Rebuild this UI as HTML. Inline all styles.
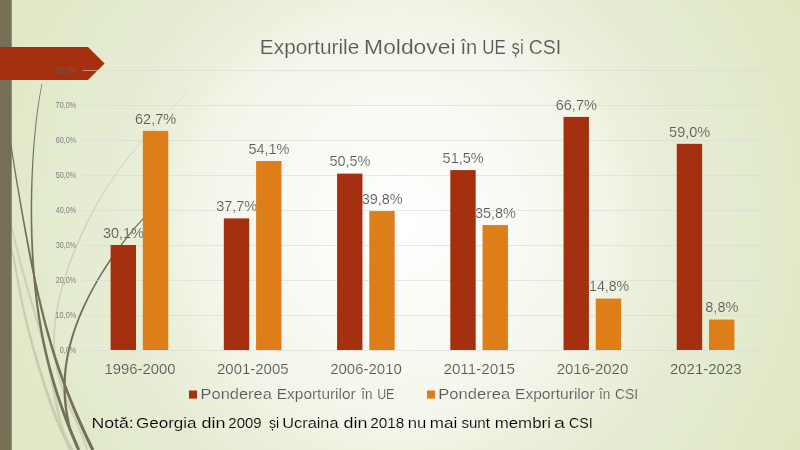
<!DOCTYPE html><html><head><meta charset="utf-8"><title>Exporturile Moldovei</title><style>html,body{margin:0;padding:0;width:800px;height:450px;overflow:hidden;background:#E4EBD0}</style></head><body><svg width="800" height="450" viewBox="0 0 800 450" style="display:block;will-change:transform;font-family:'Liberation Sans', sans-serif">
<style>text{stroke:url(#bg);stroke-width:0.15px}</style>
<defs><radialGradient id="bg" gradientUnits="userSpaceOnUse" cx="400" cy="225" r="459"><stop offset="0" stop-color="#FFFFFF"/><stop offset="0.25" stop-color="#F9FAF4"/><stop offset="0.46" stop-color="#F1F5E7"/><stop offset="0.52" stop-color="#ECF1DD"/><stop offset="0.64" stop-color="#E6ECD4"/><stop offset="0.69" stop-color="#E5ECD2"/><stop offset="0.965" stop-color="#DFE7C3"/><stop offset="1" stop-color="#DEE6C1"/></radialGradient><linearGradient id="l3g" gradientUnits="userSpaceOnUse" x1="188" y1="88" x2="95" y2="210"><stop offset="0" stop-color="#CDD2B9" stop-opacity="0.35"/><stop offset="1" stop-color="#CDD2B9" stop-opacity="1"/></linearGradient></defs>
<rect width="800" height="450" fill="url(#bg)"/>
<path d="M5.42,205.20 L5.94,207.20 L6.44,209.19 L6.94,211.18 L7.44,213.17 L7.92,215.16 L8.40,217.15 L8.87,219.14 L9.35,221.13 L9.81,223.13 L10.28,225.12 L10.74,227.11 L11.21,229.10 L11.67,231.10 L12.14,233.09 L12.61,235.09 L13.07,237.08 L13.54,239.07 L14.02,241.07 L14.49,243.06 L14.97,245.06 L15.46,247.05 L15.94,249.05 L16.43,251.04 L16.93,253.04 L17.43,255.03 L17.93,257.03 L18.44,259.03 L18.95,261.02 L19.47,263.02 L20.00,265.01 L20.52,267.01 L21.05,269.00 L21.59,271.00 L22.13,272.99 L22.68,274.99 L23.22,276.99 L23.78,278.98 L24.33,280.98 L24.89,282.97 L25.45,284.97 L26.02,286.96 L26.59,288.96 L27.16,290.95 L27.73,292.95 L28.30,294.94 L28.88,296.93 L29.45,298.93 L30.03,300.92 L30.61,302.92 L31.19,304.91 L31.76,306.90 L32.34,308.90 L32.91,310.89 L33.49,312.88 L34.06,314.88 L34.63,316.87 L35.20,318.86 L35.76,320.85 L36.33,322.84 L36.88,324.84 L37.44,326.83 L37.99,328.82 L38.54,330.81 L39.08,332.80 L39.62,334.79 L40.15,336.78 L40.67,338.77 L41.20,340.76 L41.71,342.75 L42.22,344.74 L42.72,346.73 L43.22,348.72 L43.71,350.71 L44.20,352.70 L44.67,354.69 L45.15,356.68 L45.61,358.67 L46.07,360.66 L46.52,362.65 L46.97,364.64 L47.41,366.63 L47.84,368.62 L48.27,370.61 L48.69,372.60 L49.11,374.59 L49.52,376.58 L49.93,378.57 L50.33,380.56 L50.73,382.55 L51.13,384.54 L51.52,386.53 L51.91,388.53 L52.30,390.52 L52.69,392.51 L53.08,394.50 L53.47,396.50 L53.86,398.49 L54.25,400.49 L54.65,402.48 L55.05,404.48 L55.46,406.48 L55.87,408.47 L56.29,410.47 L56.72,412.47 L57.16,414.47 L57.61,416.47 L58.07,418.48 L58.55,420.48 L59.05,422.49 L59.56,424.49 L60.09,426.50 L60.64,428.51 L61.22,430.52 L61.82,432.53 L62.45,434.54 L63.11,436.55 L63.80,438.57 L64.53,440.59 L65.29,442.60 L66.09,444.62 L66.93,446.64 L67.81,448.67 L68.74,450.67 L71.64,449.33 L70.72,447.35 L69.84,445.39 L69.01,443.43 L68.22,441.46 L67.46,439.50 L66.74,437.53 L66.05,435.56 L65.40,433.59 L64.76,431.62 L64.16,429.65 L63.58,427.67 L63.02,425.70 L62.49,423.72 L61.97,421.74 L61.47,419.76 L60.98,417.78 L60.51,415.80 L60.05,413.82 L59.60,411.84 L59.16,409.85 L58.73,407.87 L58.31,405.88 L57.89,403.90 L57.48,401.91 L57.07,399.92 L56.66,397.93 L56.26,395.94 L55.86,393.95 L55.46,391.96 L55.06,389.97 L54.65,387.98 L54.25,385.99 L53.84,383.99 L53.43,382.00 L53.02,380.01 L52.60,378.02 L52.18,376.02 L51.76,374.03 L51.32,372.03 L50.89,370.04 L50.45,368.05 L50.00,366.05 L49.54,364.06 L49.08,362.06 L48.62,360.07 L48.14,358.08 L47.66,356.08 L47.18,354.09 L46.69,352.09 L46.19,350.10 L45.68,348.11 L45.17,346.11 L44.65,344.12 L44.13,342.12 L43.60,340.13 L43.06,338.14 L42.52,336.14 L41.98,334.15 L41.42,332.16 L40.87,330.17 L40.31,328.17 L39.74,326.18 L39.18,324.19 L38.60,322.20 L38.03,320.20 L37.45,318.21 L36.87,316.22 L36.28,314.23 L35.70,312.24 L35.11,310.25 L34.52,308.26 L33.94,306.27 L33.35,304.28 L32.76,302.29 L32.17,300.30 L31.58,298.31 L30.99,296.32 L30.40,294.33 L29.81,292.34 L29.23,290.35 L28.65,288.36 L28.07,286.37 L27.49,284.38 L26.92,282.39 L26.35,280.41 L25.78,278.42 L25.21,276.43 L24.65,274.44 L24.10,272.45 L23.55,270.46 L23.00,268.48 L22.46,266.49 L21.92,264.50 L21.38,262.51 L20.85,260.52 L20.33,258.54 L19.81,256.55 L19.29,254.56 L18.78,252.57 L18.27,250.58 L17.77,248.59 L17.27,246.61 L16.78,244.62 L16.29,242.63 L15.80,240.64 L15.31,238.65 L14.83,236.66 L14.35,234.67 L13.87,232.68 L13.39,230.69 L12.92,228.70 L12.44,226.71 L11.96,224.72 L11.48,222.73 L11.00,220.74 L10.52,218.75 L10.03,216.75 L9.54,214.76 L9.04,212.77 L8.53,210.78 L8.02,208.78 L7.50,206.79 L6.97,204.80Z" fill="#CDD2B4"/>
<path d="M7.29,236.24 L7.89,238.22 L8.47,240.19 L9.01,242.16 L9.54,244.14 L10.04,246.11 L10.52,248.09 L10.98,250.07 L11.42,252.04 L11.85,254.02 L12.27,256.00 L12.68,257.98 L13.07,259.95 L13.46,261.93 L13.83,263.91 L14.21,265.89 L14.57,267.88 L14.93,269.86 L15.29,271.84 L15.65,273.82 L16.00,275.80 L16.36,277.79 L16.71,279.77 L17.07,281.75 L17.43,283.74 L17.79,285.72 L18.15,287.71 L18.52,289.69 L18.89,291.68 L19.27,293.66 L19.65,295.65 L20.03,297.63 L20.42,299.62 L20.82,301.60 L21.23,303.59 L21.64,305.58 L22.05,307.56 L22.48,309.55 L22.91,311.54 L23.34,313.52 L23.79,315.51 L24.24,317.50 L24.70,319.48 L25.16,321.47 L25.63,323.46 L26.11,325.45 L26.60,327.43 L27.09,329.42 L27.59,331.41 L28.09,333.39 L28.60,335.38 L29.12,337.37 L29.64,339.36 L30.17,341.34 L30.71,343.33 L31.25,345.32 L31.79,347.30 L32.35,349.29 L32.90,351.28 L33.46,353.26 L34.03,355.25 L34.60,357.24 L35.17,359.22 L35.75,361.21 L36.34,363.19 L36.93,365.18 L37.52,367.17 L38.12,369.15 L38.72,371.14 L39.32,373.13 L39.93,375.11 L40.55,377.10 L41.16,379.09 L41.79,381.07 L42.41,383.06 L43.05,385.05 L43.68,387.03 L44.33,389.02 L44.97,391.01 L45.63,393.00 L46.29,394.99 L46.96,396.97 L47.63,398.96 L48.31,400.95 L49.00,402.94 L49.70,404.93 L50.41,406.92 L51.13,408.91 L51.86,410.90 L52.60,412.90 L53.35,414.89 L54.12,416.88 L54.91,418.88 L55.70,420.87 L56.52,422.87 L57.35,424.86 L58.21,426.86 L59.08,428.86 L59.98,430.86 L60.90,432.86 L61.84,434.86 L62.81,436.86 L63.82,438.86 L64.85,440.86 L65.91,442.87 L67.01,444.87 L68.14,446.88 L69.32,448.89 L70.53,450.89 L73.43,449.11 L72.22,447.15 L71.05,445.19 L69.93,443.24 L68.83,441.28 L67.77,439.32 L66.74,437.36 L65.74,435.40 L64.77,433.44 L63.83,431.48 L62.90,429.51 L62.00,427.55 L61.13,425.58 L60.27,423.62 L59.43,421.65 L58.60,419.68 L57.80,417.72 L57.01,415.75 L56.23,413.78 L55.47,411.81 L54.71,409.84 L53.97,407.87 L53.24,405.89 L52.52,403.92 L51.81,401.95 L51.11,399.97 L50.41,398.00 L49.73,396.03 L49.05,394.05 L48.37,392.08 L47.71,390.10 L47.04,388.13 L46.39,386.15 L45.74,384.18 L45.09,382.20 L44.45,380.22 L43.81,378.25 L43.18,376.27 L42.55,374.29 L41.93,372.32 L41.31,370.34 L40.69,368.37 L40.08,366.39 L39.48,364.41 L38.87,362.44 L38.27,360.46 L37.68,358.48 L37.09,356.51 L36.51,354.53 L35.93,352.55 L35.35,350.58 L34.78,348.60 L34.21,346.62 L33.65,344.65 L33.10,342.67 L32.55,340.70 L32.01,338.72 L31.47,336.74 L30.94,334.77 L30.41,332.79 L29.89,330.82 L29.38,328.84 L28.88,326.86 L28.38,324.89 L27.88,322.91 L27.40,320.94 L26.92,318.96 L26.45,316.98 L25.98,315.01 L25.52,313.03 L25.07,311.06 L24.63,309.08 L24.19,307.10 L23.76,305.13 L23.33,303.15 L22.91,301.17 L22.50,299.20 L22.10,297.22 L21.69,295.24 L21.30,293.26 L20.91,291.29 L20.52,289.31 L20.14,287.33 L19.76,285.35 L19.38,283.37 L19.01,281.40 L18.64,279.42 L18.27,277.44 L17.90,275.46 L17.53,273.48 L17.15,271.49 L16.78,269.51 L16.40,267.53 L16.02,265.55 L15.63,263.57 L15.24,261.58 L14.83,259.60 L14.42,257.62 L14.00,255.63 L13.56,253.65 L13.11,251.66 L12.65,249.68 L12.17,247.69 L11.67,245.70 L11.15,243.71 L10.60,241.73 L10.04,239.74 L9.44,237.75 L8.82,235.76Z" fill="#C8CDAF"/>
<path d="M187.76,89.81 L186.13,91.79 L184.45,93.78 L182.75,95.76 L181.02,97.74 L179.27,99.73 L177.50,101.71 L175.71,103.70 L173.90,105.68 L172.08,107.67 L170.25,109.65 L168.42,111.64 L166.58,113.62 L164.74,115.61 L162.89,117.59 L161.05,119.58 L159.21,121.56 L157.37,123.55 L155.54,125.53 L153.72,127.52 L151.91,129.51 L150.11,131.49 L148.31,133.48 L146.53,135.47 L144.77,137.45 L143.02,139.44 L141.28,141.43 L139.56,143.41 L137.85,145.40 L136.17,147.39 L134.50,149.38 L132.85,151.36 L131.22,153.35 L129.60,155.34 L128.01,157.33 L126.44,159.32 L124.88,161.30 L123.35,163.29 L121.84,165.28 L120.34,167.27 L118.87,169.26 L117.42,171.25 L115.99,173.24 L114.57,175.23 L113.18,177.21 L111.81,179.20 L110.46,181.19 L109.13,183.18 L107.82,185.17 L106.52,187.16 L105.25,189.15 L104.00,191.14 L102.76,193.13 L101.54,195.12 L100.34,197.11 L99.16,199.10 L98.00,201.09 L96.85,203.08 L95.72,205.07 L94.61,207.06 L93.52,209.05 L92.44,211.04 L91.37,213.03 L90.32,215.02 L89.29,217.01 L88.27,219.00 L87.27,220.99 L86.28,222.98 L85.31,224.97 L84.35,226.96 L83.40,228.95 L82.47,230.94 L81.55,232.93 L80.64,234.92 L79.75,236.91 L78.87,238.90 L78.00,240.90 L77.14,242.89 L76.30,244.88 L75.47,246.87 L74.65,248.86 L73.84,250.85 L73.05,252.84 L72.27,254.83 L71.50,256.82 L70.74,258.81 L70.00,260.80 L69.26,262.79 L68.54,264.79 L67.84,266.78 L67.14,268.77 L66.46,270.76 L65.79,272.75 L65.14,274.74 L64.49,276.74 L63.87,278.73 L63.25,280.72 L62.65,282.71 L62.07,284.71 L61.49,286.70 L60.94,288.69 L60.40,290.69 L59.87,292.68 L59.37,294.67 L58.87,296.67 L58.40,298.66 L57.94,300.66 L57.50,302.65 L57.08,304.65 L56.68,306.64 L56.29,308.64 L55.93,310.63 L55.59,312.63 L55.26,314.63 L54.96,316.62 L54.68,318.62 L54.42,320.62 L54.19,322.62 L53.97,324.61 L53.78,326.61 L53.62,328.61 L53.48,330.61 L53.36,332.61 L53.27,334.61 L53.20,336.61 L53.16,338.61 L53.15,340.61 L53.16,342.61 L53.20,344.61 L53.27,346.61 L53.37,348.61 L53.50,350.62 L53.65,352.62 L53.83,354.62 L54.04,356.62 L54.28,358.62 L54.55,360.63 L54.85,362.63 L55.18,364.63 L55.54,366.63 L55.93,368.64 L56.34,370.64 L56.79,372.64 L57.26,374.64 L57.77,376.65 L58.30,378.65 L58.86,380.65 L59.44,382.65 L60.05,384.65 L60.69,386.65 L61.36,388.65 L62.05,390.65 L62.76,392.65 L63.49,394.65 L64.25,396.65 L65.03,398.65 L65.82,400.65 L66.64,402.65 L67.47,404.64 L68.32,406.64 L69.18,408.64 L70.05,410.63 L70.93,412.63 L71.82,414.62 L72.71,416.61 L73.61,418.60 L74.51,420.59 L75.41,422.58 L76.30,424.57 L77.18,426.56 L78.06,428.55 L78.92,430.53 L79.77,432.51 L80.59,434.50 L81.39,436.48 L82.17,438.45 L82.91,440.43 L83.62,442.40 L84.29,444.37 L84.91,446.34 L85.49,448.31 L86.01,450.28 L88.14,449.72 L87.60,447.71 L87.00,445.70 L86.35,443.69 L85.66,441.69 L84.94,439.68 L84.17,437.68 L83.38,435.68 L82.56,433.68 L81.72,431.68 L80.86,429.69 L79.99,427.70 L79.10,425.71 L78.21,423.72 L77.30,421.73 L76.40,419.74 L75.49,417.75 L74.59,415.76 L73.69,413.78 L72.79,411.79 L71.91,409.81 L71.03,407.83 L70.17,405.85 L69.32,403.86 L68.48,401.88 L67.67,399.90 L66.87,397.92 L66.09,395.94 L65.33,393.96 L64.59,391.99 L63.88,390.01 L63.19,388.03 L62.53,386.05 L61.89,384.08 L61.27,382.10 L60.69,380.12 L60.13,378.15 L59.59,376.17 L59.09,374.20 L58.61,372.22 L58.17,370.24 L57.75,368.27 L57.36,366.29 L57.00,364.32 L56.66,362.34 L56.36,360.37 L56.09,358.39 L55.84,356.42 L55.62,354.44 L55.44,352.46 L55.28,350.49 L55.15,348.51 L55.04,346.54 L54.97,344.56 L54.92,342.58 L54.90,340.61 L54.90,338.63 L54.93,336.65 L54.99,334.67 L55.07,332.69 L55.18,330.72 L55.31,328.74 L55.47,326.76 L55.65,324.78 L55.85,322.80 L56.08,320.82 L56.33,318.84 L56.60,316.86 L56.89,314.88 L57.20,312.90 L57.53,310.91 L57.89,308.93 L58.26,306.95 L58.65,304.97 L59.06,302.98 L59.49,301.00 L59.94,299.02 L60.40,297.03 L60.88,295.05 L61.38,293.07 L61.89,291.08 L62.42,289.10 L62.97,287.11 L63.53,285.13 L64.10,283.14 L64.69,281.16 L65.30,279.17 L65.92,277.19 L66.55,275.20 L67.19,273.21 L67.85,271.23 L68.52,269.24 L69.21,267.26 L69.90,265.27 L70.61,263.28 L71.33,261.30 L72.07,259.31 L72.81,257.32 L73.57,255.34 L74.34,253.35 L75.13,251.36 L75.92,249.37 L76.73,247.39 L77.55,245.40 L78.38,243.41 L79.23,241.43 L80.09,239.44 L80.96,237.45 L81.84,235.46 L82.73,233.48 L83.64,231.49 L84.57,229.50 L85.50,227.51 L86.45,225.53 L87.41,223.54 L88.39,221.55 L89.38,219.56 L90.39,217.57 L91.41,215.59 L92.45,213.60 L93.50,211.61 L94.57,209.62 L95.66,207.64 L96.76,205.65 L97.87,203.66 L99.01,201.67 L100.16,199.68 L101.33,197.70 L102.52,195.71 L103.72,193.72 L104.95,191.73 L106.19,189.74 L107.45,187.76 L108.73,185.77 L110.03,183.78 L111.35,181.79 L112.69,179.80 L114.05,177.81 L115.43,175.82 L116.83,173.84 L118.25,171.85 L119.69,169.86 L121.15,167.87 L122.63,165.88 L124.13,163.89 L125.65,161.90 L127.20,159.91 L128.76,157.92 L130.34,155.93 L131.94,153.94 L133.56,151.95 L135.20,149.96 L136.86,147.97 L138.54,145.98 L140.23,143.99 L141.94,142.00 L143.67,140.01 L145.41,138.02 L147.16,136.03 L148.93,134.03 L150.72,132.04 L152.51,130.05 L154.31,128.06 L156.13,126.07 L157.95,124.08 L159.77,122.08 L161.61,120.09 L163.44,118.10 L165.28,116.11 L167.11,114.11 L168.94,112.12 L170.77,110.13 L172.59,108.13 L174.41,106.14 L176.20,104.15 L177.99,102.15 L179.76,100.16 L181.51,98.17 L183.23,96.17 L184.93,94.18 L186.59,92.18 L188.23,90.19Z" fill="url(#l3g)"/>
<path d="M5.71,100.03 L5.84,102.02 L5.97,104.01 L6.11,106.00 L6.27,107.99 L6.43,109.98 L6.60,111.97 L6.79,113.96 L6.97,115.95 L7.17,117.95 L7.38,119.94 L7.59,121.93 L7.81,123.92 L8.03,125.91 L8.27,127.90 L8.51,129.89 L8.75,131.88 L9.00,133.87 L9.26,135.86 L9.52,137.85 L9.78,139.85 L10.05,141.84 L10.32,143.83 L10.60,145.82 L10.88,147.81 L11.17,149.80 L11.46,151.79 L11.75,153.78 L12.05,155.77 L12.35,157.76 L12.65,159.75 L12.95,161.74 L13.26,163.73 L13.57,165.72 L13.88,167.71 L14.19,169.70 L14.51,171.69 L14.83,173.68 L15.15,175.67 L15.47,177.66 L15.79,179.65 L16.12,181.64 L16.44,183.64 L16.77,185.63 L17.10,187.62 L17.43,189.61 L17.76,191.60 L18.10,193.59 L18.43,195.58 L18.77,197.57 L19.10,199.56 L19.44,201.55 L19.78,203.54 L20.12,205.53 L20.46,207.52 L20.80,209.51 L21.15,211.50 L21.49,213.49 L21.84,215.48 L22.18,217.47 L22.53,219.46 L22.88,221.45 L23.23,223.44 L23.58,225.43 L23.93,227.42 L24.29,229.41 L24.64,231.40 L25.00,233.39 L25.36,235.38 L25.72,237.37 L26.08,239.36 L26.44,241.35 L26.81,243.34 L27.18,245.33 L27.54,247.33 L27.92,249.32 L28.29,251.31 L28.66,253.30 L29.04,255.29 L29.42,257.28 L29.80,259.27 L30.19,261.26 L30.57,263.25 L30.96,265.24 L31.36,267.23 L31.75,269.23 L32.15,271.22 L32.55,273.21 L32.95,275.20 L33.36,277.19 L33.77,279.18 L34.19,281.18 L34.61,283.17 L35.03,285.16 L35.46,287.15 L35.89,289.14 L36.32,291.13 L36.76,293.13 L37.20,295.12 L37.65,297.11 L38.10,299.10 L38.55,301.10 L39.01,303.09 L39.48,305.08 L39.95,307.07 L40.42,309.07 L40.90,311.06 L41.39,313.05 L41.88,315.05 L42.38,317.04 L42.88,319.03 L43.39,321.03 L43.90,323.02 L44.42,325.01 L44.95,327.01 L45.48,329.00 L46.02,330.99 L46.56,332.99 L47.11,334.98 L47.67,336.98 L48.23,338.97 L48.80,340.96 L49.38,342.96 L49.96,344.95 L50.55,346.95 L51.15,348.94 L51.75,350.94 L52.37,352.93 L52.98,354.92 L53.61,356.92 L54.24,358.91 L54.88,360.91 L55.53,362.90 L56.19,364.90 L56.85,366.89 L57.52,368.89 L58.20,370.88 L58.89,372.88 L59.58,374.87 L60.28,376.87 L60.99,378.86 L61.71,380.86 L62.43,382.86 L63.16,384.85 L63.90,386.85 L64.65,388.84 L65.40,390.84 L66.17,392.83 L66.94,394.83 L67.72,396.82 L68.50,398.82 L69.30,400.82 L70.10,402.81 L70.91,404.81 L71.72,406.80 L72.55,408.80 L73.38,410.79 L74.21,412.79 L75.06,414.78 L75.91,416.78 L76.77,418.78 L77.64,420.77 L78.51,422.77 L79.39,424.76 L80.28,426.76 L81.17,428.75 L82.07,430.75 L82.98,432.74 L83.89,434.74 L84.81,436.73 L85.73,438.73 L86.66,440.72 L87.59,442.72 L88.53,444.71 L89.48,446.71 L90.43,448.70 L91.38,450.70 L94.26,449.30 L93.30,447.32 L92.34,445.34 L91.38,443.36 L90.43,441.37 L89.49,439.39 L88.55,437.41 L87.62,435.43 L86.69,433.44 L85.77,431.46 L84.85,429.48 L83.94,427.50 L83.04,425.52 L82.14,423.53 L81.25,421.55 L80.37,419.57 L79.49,417.59 L78.62,415.61 L77.76,413.62 L76.91,411.64 L76.06,409.66 L75.22,407.68 L74.38,405.70 L73.56,403.72 L72.74,401.73 L71.93,399.75 L71.13,397.77 L70.33,395.79 L69.54,393.81 L68.76,391.83 L67.99,389.84 L67.22,387.86 L66.47,385.88 L65.72,383.90 L64.97,381.92 L64.24,379.94 L63.51,377.95 L62.80,375.97 L62.08,373.99 L61.38,372.01 L60.68,370.03 L60.00,368.04 L59.32,366.06 L58.64,364.08 L57.98,362.10 L57.32,360.11 L56.67,358.13 L56.02,356.15 L55.39,354.17 L54.76,352.18 L54.13,350.20 L53.52,348.22 L52.91,346.24 L52.31,344.25 L51.71,342.27 L51.13,340.29 L50.54,338.30 L49.97,336.32 L49.40,334.34 L48.84,332.35 L48.29,330.37 L47.74,328.39 L47.19,326.40 L46.66,324.42 L46.12,322.44 L45.60,320.45 L45.08,318.47 L44.57,316.48 L44.06,314.50 L43.56,312.52 L43.06,310.53 L42.57,308.55 L42.08,306.56 L41.60,304.58 L41.12,302.59 L40.65,300.61 L40.18,298.62 L39.71,296.64 L39.26,294.65 L38.80,292.67 L38.35,290.68 L37.90,288.70 L37.46,286.71 L37.02,284.73 L36.59,282.74 L36.16,280.76 L35.73,278.77 L35.31,276.79 L34.89,274.80 L34.47,272.81 L34.06,270.83 L33.65,268.84 L33.24,266.86 L32.83,264.87 L32.43,262.88 L32.03,260.90 L31.63,258.91 L31.24,256.93 L30.85,254.94 L30.46,252.95 L30.07,250.97 L29.68,248.98 L29.30,246.99 L28.92,245.01 L28.54,243.02 L28.16,241.03 L27.78,239.05 L27.41,237.06 L27.04,235.07 L26.66,233.09 L26.29,231.10 L25.93,229.11 L25.56,227.13 L25.19,225.14 L24.83,223.15 L24.47,221.16 L24.10,219.18 L23.74,217.19 L23.38,215.20 L23.02,213.22 L22.67,211.23 L22.31,209.24 L21.96,207.26 L21.60,205.27 L21.25,203.28 L20.90,201.29 L20.55,199.31 L20.20,197.32 L19.85,195.33 L19.50,193.35 L19.15,191.36 L18.81,189.37 L18.47,187.38 L18.12,185.40 L17.78,183.41 L17.44,181.42 L17.11,179.44 L16.77,177.45 L16.44,175.46 L16.10,173.48 L15.77,171.49 L15.44,169.50 L15.12,167.51 L14.79,165.53 L14.47,163.54 L14.15,161.55 L13.83,159.57 L13.52,157.58 L13.21,155.59 L12.90,153.61 L12.59,151.62 L12.29,149.63 L11.99,147.65 L11.70,145.66 L11.40,143.67 L11.12,141.69 L10.84,139.70 L10.56,137.71 L10.28,135.73 L10.02,133.74 L9.75,131.75 L9.50,129.77 L9.25,127.78 L9.00,125.80 L8.76,123.81 L8.53,121.82 L8.30,119.84 L8.09,117.85 L7.88,115.86 L7.67,113.88 L7.48,111.89 L7.29,109.91 L7.12,107.92 L6.95,105.93 L6.79,103.95 L6.65,101.96 L6.51,99.97Z" fill="#756F55"/>
<path d="M41.62,83.93 L41.23,85.92 L40.84,87.91 L40.47,89.90 L40.10,91.89 L39.75,93.88 L39.40,95.87 L39.07,97.86 L38.74,99.85 L38.42,101.84 L38.11,103.83 L37.81,105.82 L37.52,107.81 L37.24,109.80 L36.96,111.79 L36.69,113.78 L36.43,115.77 L36.18,117.76 L35.94,119.75 L35.70,121.74 L35.47,123.73 L35.24,125.72 L35.02,127.71 L34.81,129.70 L34.61,131.69 L34.41,133.68 L34.21,135.67 L34.03,137.66 L33.85,139.65 L33.67,141.64 L33.50,143.63 L33.34,145.62 L33.18,147.61 L33.03,149.60 L32.88,151.59 L32.74,153.58 L32.60,155.57 L32.47,157.56 L32.35,159.55 L32.22,161.54 L32.11,163.53 L32.00,165.52 L31.89,167.51 L31.79,169.50 L31.69,171.49 L31.60,173.48 L31.51,175.47 L31.42,177.46 L31.34,179.45 L31.27,181.45 L31.20,183.44 L31.14,185.43 L31.07,187.42 L31.02,189.41 L30.97,191.40 L30.92,193.39 L30.87,195.38 L30.84,197.37 L30.80,199.36 L30.77,201.35 L30.75,203.34 L30.73,205.33 L30.71,207.32 L30.70,209.31 L30.69,211.30 L30.69,213.30 L30.69,215.29 L30.69,217.28 L30.70,219.27 L30.72,221.26 L30.74,223.25 L30.76,225.24 L30.79,227.23 L30.83,229.22 L30.87,231.22 L30.91,233.21 L30.96,235.20 L31.01,237.19 L31.07,239.18 L31.13,241.17 L31.20,243.16 L31.28,245.16 L31.36,247.15 L31.44,249.14 L31.53,251.13 L31.62,253.12 L31.72,255.11 L31.83,257.11 L31.94,259.10 L32.06,261.09 L32.18,263.08 L32.31,265.08 L32.44,267.07 L32.58,269.06 L32.73,271.05 L32.88,273.04 L33.04,275.04 L33.20,277.03 L33.37,279.02 L33.55,281.02 L33.73,283.01 L33.92,285.00 L34.11,286.99 L34.31,288.99 L34.52,290.98 L34.74,292.97 L34.96,294.97 L35.19,296.96 L35.42,298.95 L35.67,300.95 L35.92,302.94 L36.17,304.93 L36.44,306.93 L36.71,308.92 L36.99,310.92 L37.27,312.91 L37.56,314.90 L37.87,316.90 L38.17,318.89 L38.49,320.89 L38.81,322.88 L39.14,324.88 L39.48,326.87 L39.83,328.86 L40.19,330.86 L40.55,332.85 L40.92,334.85 L41.30,336.84 L41.69,338.84 L42.08,340.83 L42.49,342.83 L42.90,344.82 L43.32,346.82 L43.75,348.81 L44.19,350.81 L44.63,352.80 L45.09,354.80 L45.55,356.80 L46.03,358.79 L46.51,360.79 L47.00,362.78 L47.50,364.78 L48.00,366.77 L48.52,368.77 L49.05,370.77 L49.58,372.76 L50.12,374.76 L50.68,376.75 L51.24,378.75 L51.81,380.75 L52.39,382.74 L52.98,384.74 L53.57,386.74 L54.18,388.73 L54.80,390.73 L55.42,392.73 L56.05,394.72 L56.70,396.72 L57.35,398.72 L58.01,400.71 L58.68,402.71 L59.36,404.71 L60.05,406.70 L60.74,408.70 L61.45,410.70 L62.17,412.69 L62.89,414.69 L63.62,416.69 L64.36,418.68 L65.11,420.68 L65.87,422.68 L66.64,424.67 L67.42,426.67 L68.20,428.67 L68.99,430.66 L69.80,432.66 L70.61,434.66 L71.43,436.65 L72.25,438.65 L73.09,440.65 L73.93,442.64 L74.78,444.64 L75.64,446.64 L76.50,448.63 L77.38,450.63 L80.21,449.37 L79.33,447.39 L78.45,445.41 L77.59,443.43 L76.73,441.44 L75.88,439.46 L75.03,437.48 L74.20,435.50 L73.37,433.52 L72.55,431.54 L71.74,429.56 L70.94,427.57 L70.15,425.59 L69.36,423.61 L68.58,421.63 L67.82,419.65 L67.06,417.67 L66.31,415.68 L65.56,413.70 L64.83,411.72 L64.11,409.74 L63.39,407.76 L62.69,405.78 L61.99,403.79 L61.30,401.81 L60.62,399.83 L59.95,397.85 L59.29,395.87 L58.64,393.89 L57.99,391.90 L57.36,389.92 L56.74,387.94 L56.12,385.96 L55.51,383.98 L54.91,382.00 L54.32,380.01 L53.74,378.03 L53.17,376.05 L52.61,374.07 L52.06,372.09 L51.51,370.10 L50.98,368.12 L50.45,366.14 L49.93,364.16 L49.42,362.17 L48.92,360.19 L48.43,358.21 L47.95,356.23 L47.48,354.24 L47.01,352.26 L46.55,350.28 L46.10,348.29 L45.66,346.31 L45.23,344.33 L44.81,342.35 L44.39,340.36 L43.99,338.38 L43.59,336.40 L43.20,334.41 L42.82,332.43 L42.44,330.45 L42.08,328.46 L41.72,326.48 L41.37,324.49 L41.02,322.51 L40.69,320.53 L40.36,318.54 L40.04,316.56 L39.73,314.57 L39.42,312.59 L39.13,310.61 L38.84,308.62 L38.55,306.64 L38.28,304.65 L38.01,302.67 L37.75,300.68 L37.50,298.70 L37.25,296.71 L37.01,294.73 L36.77,292.74 L36.55,290.76 L36.33,288.77 L36.11,286.79 L35.90,284.80 L35.70,282.82 L35.51,280.83 L35.32,278.85 L35.14,276.86 L34.96,274.88 L34.79,272.89 L34.63,270.90 L34.47,268.92 L34.32,266.93 L34.17,264.95 L34.03,262.96 L33.90,260.97 L33.77,258.99 L33.64,257.00 L33.53,255.02 L33.41,253.03 L33.31,251.04 L33.20,249.06 L33.11,247.07 L33.02,245.08 L32.93,243.10 L32.85,241.11 L32.77,239.12 L32.70,237.14 L32.63,235.15 L32.57,233.16 L32.52,231.18 L32.47,229.19 L32.42,227.20 L32.38,225.21 L32.34,223.23 L32.31,221.24 L32.28,219.25 L32.25,217.27 L32.24,215.28 L32.22,213.29 L32.21,211.30 L32.21,209.32 L32.21,207.33 L32.21,205.34 L32.22,203.35 L32.23,201.37 L32.25,199.38 L32.27,197.39 L32.29,195.40 L32.33,193.42 L32.36,191.43 L32.40,189.44 L32.44,187.45 L32.49,185.47 L32.54,183.48 L32.60,181.49 L32.66,179.50 L32.73,177.51 L32.80,175.53 L32.87,173.54 L32.95,171.55 L33.04,169.56 L33.13,167.57 L33.22,165.59 L33.32,163.60 L33.42,161.61 L33.53,159.62 L33.65,157.63 L33.77,155.65 L33.89,153.66 L34.02,151.67 L34.15,149.68 L34.29,147.69 L34.44,145.71 L34.59,143.72 L34.74,141.73 L34.91,139.74 L35.07,137.75 L35.25,135.76 L35.43,133.78 L35.61,131.79 L35.80,129.80 L36.00,127.81 L36.21,125.82 L36.42,123.84 L36.64,121.85 L36.86,119.86 L37.09,117.87 L37.33,115.88 L37.58,113.89 L37.84,111.91 L38.10,109.92 L38.37,107.93 L38.65,105.94 L38.94,103.95 L39.23,101.96 L39.53,99.98 L39.85,97.99 L40.17,96.00 L40.50,94.01 L40.84,92.02 L41.19,90.03 L41.55,88.05 L41.93,86.06 L42.31,84.07Z" fill="#756F55"/>
<path d="M152.12,208.61 L150.13,210.60 L148.17,212.59 L146.24,214.58 L144.34,216.57 L142.48,218.55 L140.64,220.54 L138.83,222.53 L137.06,224.52 L135.31,226.51 L133.58,228.50 L131.89,230.49 L130.21,232.48 L128.57,234.47 L126.95,236.46 L125.35,238.45 L123.78,240.44 L122.22,242.43 L120.70,244.42 L119.19,246.41 L117.70,248.41 L116.24,250.40 L114.80,252.39 L113.37,254.38 L111.97,256.37 L110.59,258.36 L109.23,260.35 L107.88,262.34 L106.56,264.33 L105.26,266.33 L103.97,268.32 L102.70,270.31 L101.46,272.30 L100.23,274.29 L99.02,276.29 L97.82,278.28 L96.65,280.27 L95.49,282.26 L94.36,284.26 L93.24,286.25 L92.14,288.24 L91.06,290.23 L89.99,292.23 L88.95,294.22 L87.92,296.22 L86.91,298.21 L85.92,300.20 L84.95,302.20 L84.00,304.19 L83.07,306.19 L82.16,308.18 L81.26,310.18 L80.39,312.17 L79.53,314.17 L78.70,316.16 L77.89,318.16 L77.09,320.16 L76.32,322.15 L75.57,324.15 L74.83,326.15 L74.12,328.15 L73.43,330.14 L72.77,332.14 L72.12,334.14 L71.49,336.14 L70.89,338.14 L70.31,340.14 L69.75,342.14 L69.22,344.14 L68.70,346.14 L68.21,348.14 L67.75,350.14 L67.30,352.14 L66.88,354.14 L66.49,356.14 L66.11,358.14 L65.76,360.14 L65.44,362.15 L65.14,364.15 L64.86,366.15 L64.61,368.16 L64.39,370.16 L64.18,372.16 L64.01,374.17 L63.85,376.17 L63.73,378.17 L63.63,380.18 L63.55,382.18 L63.50,384.19 L63.47,386.19 L63.47,388.20 L63.49,390.20 L63.53,392.21 L63.61,394.21 L63.70,396.22 L63.82,398.22 L63.97,400.23 L64.14,402.24 L64.33,404.24 L64.55,406.25 L64.79,408.25 L65.06,410.26 L65.35,412.26 L65.66,414.27 L65.99,416.27 L66.35,418.28 L66.72,420.28 L67.12,422.28 L67.54,424.29 L67.98,426.29 L68.44,428.30 L68.92,430.29 L71.35,429.71 L70.86,427.72 L70.39,425.74 L69.95,423.77 L69.52,421.79 L69.12,419.81 L68.73,417.83 L68.37,415.86 L68.03,413.88 L67.71,411.90 L67.42,409.92 L67.15,407.95 L66.90,405.97 L66.67,403.99 L66.47,402.02 L66.29,400.04 L66.14,398.06 L66.00,396.09 L65.90,394.11 L65.82,392.13 L65.76,390.16 L65.73,388.18 L65.72,386.20 L65.73,384.23 L65.77,382.25 L65.84,380.27 L65.93,378.29 L66.04,376.32 L66.18,374.34 L66.34,372.36 L66.53,370.38 L66.75,368.40 L66.98,366.42 L67.24,364.45 L67.53,362.47 L67.84,360.49 L68.17,358.51 L68.53,356.53 L68.91,354.55 L69.31,352.57 L69.74,350.58 L70.19,348.60 L70.66,346.62 L71.16,344.64 L71.68,342.66 L72.22,340.67 L72.78,338.69 L73.37,336.71 L73.98,334.73 L74.61,332.74 L75.26,330.76 L75.93,328.77 L76.63,326.79 L77.34,324.80 L78.08,322.82 L78.83,320.83 L79.61,318.85 L80.41,316.86 L81.22,314.88 L82.06,312.89 L82.92,310.90 L83.79,308.92 L84.69,306.93 L85.60,304.94 L86.54,302.96 L87.49,300.97 L88.46,298.98 L89.45,296.99 L90.46,295.00 L91.49,293.02 L92.54,291.03 L93.60,289.04 L94.68,287.05 L95.79,285.06 L96.91,283.07 L98.05,281.08 L99.20,279.09 L100.38,277.10 L101.57,275.11 L102.79,273.12 L104.02,271.13 L105.27,269.14 L106.53,267.15 L107.82,265.16 L109.13,263.17 L110.46,261.18 L111.80,259.19 L113.17,257.20 L114.55,255.21 L115.96,253.22 L117.38,251.23 L118.83,249.23 L120.30,247.24 L121.79,245.25 L123.30,243.26 L124.83,241.27 L126.39,239.28 L127.97,237.29 L129.57,235.29 L131.20,233.30 L132.86,231.31 L134.54,229.32 L136.24,227.33 L137.97,225.33 L139.73,223.34 L141.52,221.35 L143.34,219.36 L145.19,217.36 L147.07,215.37 L148.98,213.38 L150.92,211.38 L152.90,209.39Z" fill="#756F55"/>
<rect x="0" y="0" width="11.7" height="450" fill="#756F55"/>
<polygon points="0,46.9 88,46.9 104.6,63.4 88,79.9 0,79.9" fill="#A53010"/>
<text x="259.88" y="54.25" font-size="20" fill="#595959" textLength="99.40" lengthAdjust="spacingAndGlyphs">Exporturile</text>
<text x="364.12" y="54.25" font-size="20" fill="#595959" textLength="91.42" lengthAdjust="spacingAndGlyphs">Moldovei</text>
<text x="460.46" y="54.25" font-size="20" fill="#595959" textLength="16.89" lengthAdjust="spacingAndGlyphs">în</text>
<text x="482.19" y="54.25" font-size="20" fill="#595959" textLength="23.52" lengthAdjust="spacingAndGlyphs">UE</text>
<text x="511.54" y="54.25" font-size="20" fill="#595959" textLength="12.08" lengthAdjust="spacingAndGlyphs">și</text>
<text x="528.78" y="54.25" font-size="20" fill="#595959" textLength="32.41" lengthAdjust="spacingAndGlyphs">CSI</text>
<line x1="82.8" y1="350.50" x2="762.2" y2="350.50" stroke="#D9D9D9" stroke-width="1" stroke-opacity="0.62"/>
<line x1="82.8" y1="315.50" x2="762.2" y2="315.50" stroke="#D9D9D9" stroke-width="1" stroke-opacity="0.62"/>
<line x1="82.8" y1="280.50" x2="762.2" y2="280.50" stroke="#D9D9D9" stroke-width="1" stroke-opacity="0.62"/>
<line x1="82.8" y1="245.50" x2="762.2" y2="245.50" stroke="#D9D9D9" stroke-width="1" stroke-opacity="0.62"/>
<line x1="82.8" y1="210.50" x2="762.2" y2="210.50" stroke="#D9D9D9" stroke-width="1" stroke-opacity="0.62"/>
<line x1="82.8" y1="175.50" x2="762.2" y2="175.50" stroke="#D9D9D9" stroke-width="1" stroke-opacity="0.62"/>
<line x1="82.8" y1="140.50" x2="762.2" y2="140.50" stroke="#D9D9D9" stroke-width="1" stroke-opacity="0.62"/>
<line x1="82.8" y1="105.50" x2="762.2" y2="105.50" stroke="#D9D9D9" stroke-width="1" stroke-opacity="0.62"/>
<line x1="82.8" y1="70.50" x2="762.2" y2="70.50" stroke="#D9D9D9" stroke-width="1" stroke-opacity="0.62"/>
<text x="59.71" y="353.05" font-size="8.5" fill="#7F7F7F" textLength="16.56" lengthAdjust="spacingAndGlyphs" style="stroke:none">0,0%</text>
<text x="55.45" y="318.05" font-size="8.5" fill="#7F7F7F" textLength="20.81" lengthAdjust="spacingAndGlyphs" style="stroke:none">10,0%</text>
<text x="55.64" y="283.05" font-size="8.5" fill="#7F7F7F" textLength="20.62" lengthAdjust="spacingAndGlyphs" style="stroke:none">20,0%</text>
<text x="55.73" y="248.05" font-size="8.5" fill="#7F7F7F" textLength="20.53" lengthAdjust="spacingAndGlyphs" style="stroke:none">30,0%</text>
<text x="55.84" y="213.05" font-size="8.5" fill="#7F7F7F" textLength="20.42" lengthAdjust="spacingAndGlyphs" style="stroke:none">40,0%</text>
<text x="55.71" y="178.05" font-size="8.5" fill="#7F7F7F" textLength="20.55" lengthAdjust="spacingAndGlyphs" style="stroke:none">50,0%</text>
<text x="55.64" y="143.05" font-size="8.5" fill="#7F7F7F" textLength="20.62" lengthAdjust="spacingAndGlyphs" style="stroke:none">60,0%</text>
<text x="55.62" y="108.05" font-size="8.5" fill="#7F7F7F" textLength="20.64" lengthAdjust="spacingAndGlyphs" style="stroke:none">70,0%</text>
<text x="55.69" y="73.05" font-size="8.5" fill="#6E5750" textLength="20.57" lengthAdjust="spacingAndGlyphs" style="stroke:none">80,0%</text>
<rect x="110.60" y="245.00" width="25.39" height="105.00" fill="#A53010"/>
<rect x="142.84" y="130.90" width="25.39" height="219.10" fill="#DE7E18"/>
<rect x="223.83" y="218.40" width="25.39" height="131.60" fill="#A53010"/>
<rect x="256.08" y="161.00" width="25.39" height="189.00" fill="#DE7E18"/>
<rect x="337.07" y="173.60" width="25.39" height="176.40" fill="#A53010"/>
<rect x="369.31" y="211.05" width="25.39" height="138.95" fill="#DE7E18"/>
<rect x="450.30" y="170.10" width="25.39" height="179.90" fill="#A53010"/>
<rect x="482.54" y="225.05" width="25.39" height="124.95" fill="#DE7E18"/>
<rect x="563.53" y="116.90" width="25.39" height="233.10" fill="#A53010"/>
<rect x="595.78" y="298.55" width="25.39" height="51.45" fill="#DE7E18"/>
<rect x="676.77" y="143.85" width="25.39" height="206.15" fill="#A53010"/>
<rect x="709.01" y="319.55" width="25.39" height="30.45" fill="#DE7E18"/>
<text x="102.95" y="237.80" font-size="15.4" fill="#595959" textLength="41.06" lengthAdjust="spacingAndGlyphs">30,1%</text>
<text x="135.01" y="123.70" font-size="15.4" fill="#595959" textLength="41.24" lengthAdjust="spacingAndGlyphs">62,7%</text>
<text x="216.19" y="211.20" font-size="15.4" fill="#595959" textLength="41.06" lengthAdjust="spacingAndGlyphs">37,7%</text>
<text x="248.39" y="153.80" font-size="15.4" fill="#595959" textLength="41.09" lengthAdjust="spacingAndGlyphs">54,1%</text>
<text x="329.38" y="166.40" font-size="15.4" fill="#595959" textLength="41.09" lengthAdjust="spacingAndGlyphs">50,5%</text>
<text x="361.66" y="203.85" font-size="15.4" fill="#595959" textLength="41.06" lengthAdjust="spacingAndGlyphs">39,8%</text>
<text x="442.62" y="162.90" font-size="15.4" fill="#595959" textLength="41.09" lengthAdjust="spacingAndGlyphs">51,5%</text>
<text x="474.90" y="217.85" font-size="15.4" fill="#595959" textLength="41.06" lengthAdjust="spacingAndGlyphs">35,8%</text>
<text x="555.70" y="109.70" font-size="15.4" fill="#595959" textLength="41.24" lengthAdjust="spacingAndGlyphs">66,7%</text>
<text x="589.01" y="291.35" font-size="15.4" fill="#595959" textLength="40.17" lengthAdjust="spacingAndGlyphs">14,8%</text>
<text x="669.08" y="136.65" font-size="15.4" fill="#595959" textLength="41.09" lengthAdjust="spacingAndGlyphs">59,0%</text>
<text x="705.29" y="312.35" font-size="15.4" fill="#595959" textLength="33.15" lengthAdjust="spacingAndGlyphs">8,8%</text>
<text x="104.60" y="374.30" font-size="15.1" fill="#595959" textLength="70.90" lengthAdjust="spacingAndGlyphs">1996-2000</text>
<text x="217.00" y="374.30" font-size="15.1" fill="#595959" textLength="71.58" lengthAdjust="spacingAndGlyphs">2001-2005</text>
<text x="330.24" y="374.30" font-size="15.1" fill="#595959" textLength="71.54" lengthAdjust="spacingAndGlyphs">2006-2010</text>
<text x="443.46" y="374.30" font-size="15.1" fill="#595959" textLength="71.58" lengthAdjust="spacingAndGlyphs">2011-2015</text>
<text x="556.70" y="374.30" font-size="15.1" fill="#595959" textLength="71.54" lengthAdjust="spacingAndGlyphs">2016-2020</text>
<text x="669.93" y="374.30" font-size="15.1" fill="#595959" textLength="71.62" lengthAdjust="spacingAndGlyphs">2021-2023</text>
<rect x="189" y="390.5" width="8.1" height="8.1" fill="#A53010"/>
<rect x="427" y="390.5" width="8.1" height="8.1" fill="#DE7E18"/>
<text x="200.54" y="399.25" font-size="15.5" fill="#595959" textLength="71.39" lengthAdjust="spacingAndGlyphs">Ponderea</text>
<text x="276.83" y="399.25" font-size="15.5" fill="#595959" textLength="78.81" lengthAdjust="spacingAndGlyphs">Exporturilor</text>
<text x="361.30" y="399.25" font-size="15.5" fill="#595959" textLength="11.19" lengthAdjust="spacingAndGlyphs">în</text>
<text x="377.14" y="399.25" font-size="15.5" fill="#595959" textLength="17.28" lengthAdjust="spacingAndGlyphs">UE</text>
<text x="438.23" y="399.25" font-size="15.5" fill="#595959" textLength="71.90" lengthAdjust="spacingAndGlyphs">Ponderea</text>
<text x="515.02" y="399.25" font-size="15.5" fill="#595959" textLength="79.63" lengthAdjust="spacingAndGlyphs">Exporturilor</text>
<text x="599.05" y="399.25" font-size="15.5" fill="#595959" textLength="11.24" lengthAdjust="spacingAndGlyphs">în</text>
<text x="614.90" y="399.25" font-size="15.5" fill="#595959" textLength="23.28" lengthAdjust="spacingAndGlyphs">CSI</text>
<text x="91.44" y="428.00" font-size="15.4" fill="#000000" textLength="42.36" lengthAdjust="spacingAndGlyphs">Notă:</text>
<text x="135.95" y="428.00" font-size="15.4" fill="#000000" textLength="60.66" lengthAdjust="spacingAndGlyphs">Georgia</text>
<text x="201.54" y="428.00" font-size="15.4" fill="#000000" textLength="23.97" lengthAdjust="spacingAndGlyphs">din</text>
<text x="228.35" y="428.00" font-size="15.4" fill="#000000" textLength="33.25" lengthAdjust="spacingAndGlyphs">2009</text>
<text x="269.11" y="428.00" font-size="15.4" fill="#000000" textLength="10.13" lengthAdjust="spacingAndGlyphs">și</text>
<text x="282.34" y="428.00" font-size="15.4" fill="#000000" textLength="56.18" lengthAdjust="spacingAndGlyphs">Ucraina</text>
<text x="343.44" y="428.00" font-size="15.4" fill="#000000" textLength="23.97" lengthAdjust="spacingAndGlyphs">din</text>
<text x="370.34" y="428.00" font-size="15.4" fill="#000000" textLength="33.94" lengthAdjust="spacingAndGlyphs">2018</text>
<text x="407.77" y="428.00" font-size="15.4" fill="#000000" textLength="18.55" lengthAdjust="spacingAndGlyphs">nu</text>
<text x="429.75" y="428.00" font-size="15.4" fill="#000000" textLength="27.48" lengthAdjust="spacingAndGlyphs">mai</text>
<text x="461.38" y="428.00" font-size="15.4" fill="#000000" textLength="28.53" lengthAdjust="spacingAndGlyphs">sunt</text>
<text x="494.66" y="428.00" font-size="15.4" fill="#000000" textLength="56.25" lengthAdjust="spacingAndGlyphs">membri</text>
<text x="554.06" y="428.00" font-size="15.4" fill="#000000" textLength="10.96" lengthAdjust="spacingAndGlyphs">a</text>
<text x="569.09" y="428.00" font-size="15.4" fill="#000000" textLength="23.72" lengthAdjust="spacingAndGlyphs">CSI</text>
</svg></body></html>
